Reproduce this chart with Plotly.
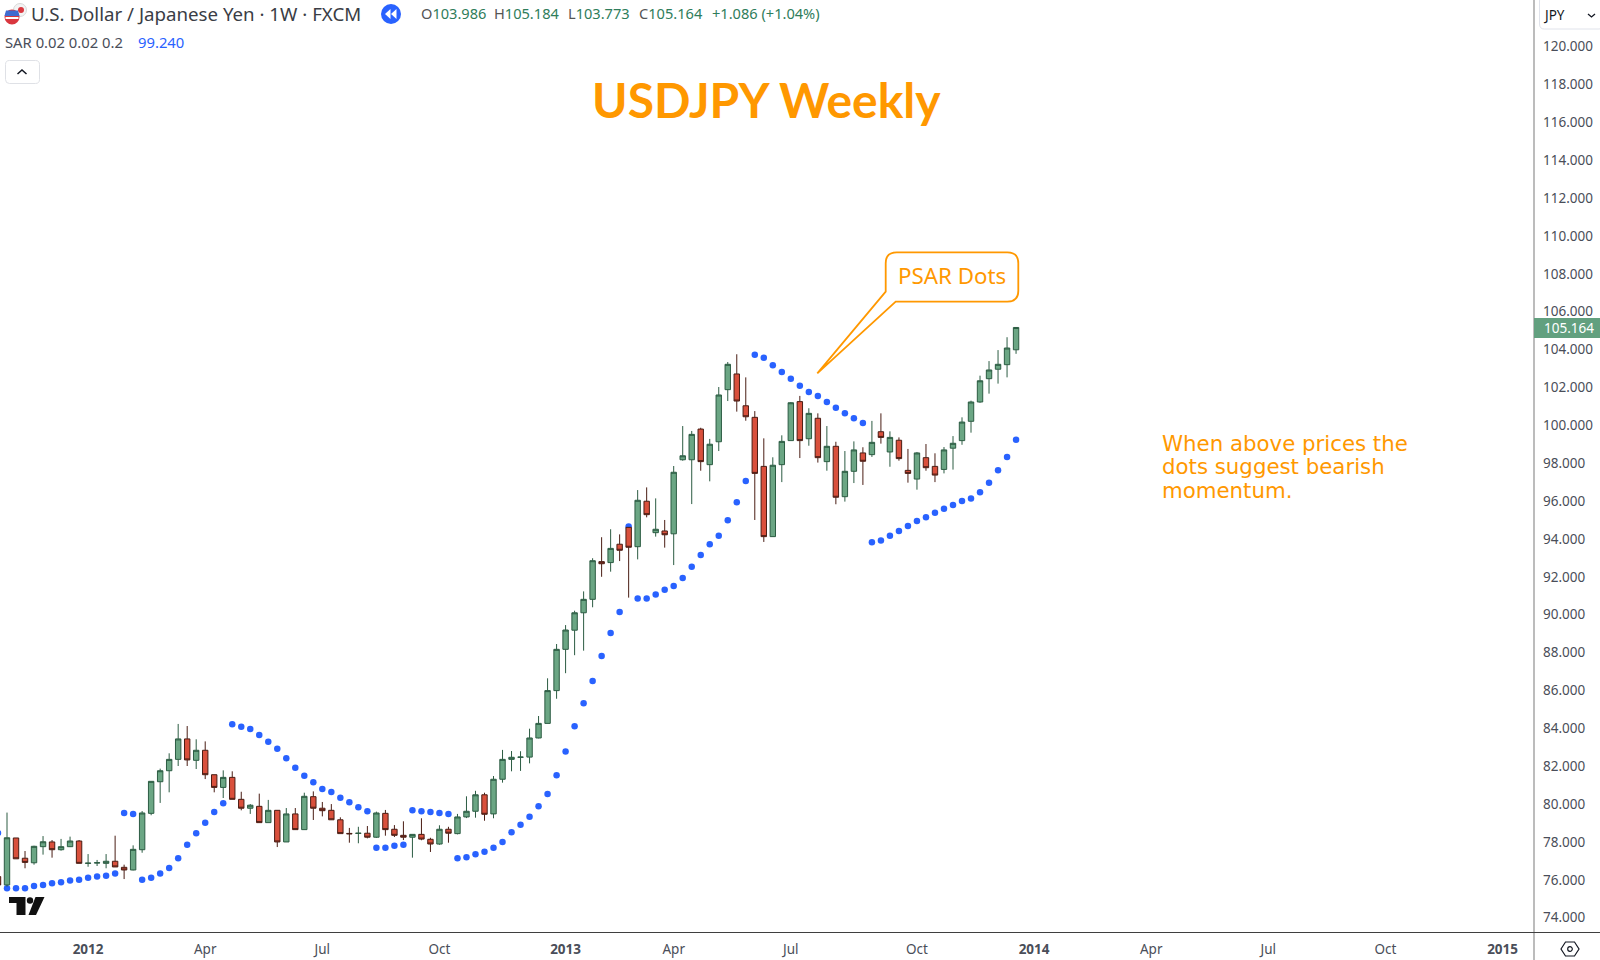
import pandas as pd
import plotly.graph_objects as go

# ---------- data (weekly USDJPY) ----------
dates = pd.date_range("2011-10-24", periods=114, freq="7D")

opens = [76.17,75.73,78.21,77.14,76.90,77.75,78.00,77.59,77.75,78.05,76.87,76.89,76.87,76.98,76.66,76.52,77.59,79.51,81.18,81.76,
82.36,83.44,82.31,82.84,81.55,80.88,81.41,80.25,79.78,79.88,79.02,79.67,78.00,79.48,78.65,80.39,79.78,79.67,79.17,78.45,
78.45,78.46,78.25,79.51,78.67,78.35,78.25,78.40,78.14,77.89,78.67,78.44,79.32,79.62,80.49,79.48,81.31,82.36,82.47,82.48,
83.49,84.26,85.99,88.17,89.18,90.10,90.81,92.80,92.75,93.72,94.61,93.59,95.99,94.33,94.42,94.27,98.18,98.18,99.80,97.92,
99.13,101.88,102.71,101.03,100.42,97.83,94.12,97.92,99.19,101.25,99.29,100.37,98.08,98.89,96.23,97.57,98.54,98.45,99.66,98.59,
99.21,97.62,97.16,98.29,97.83,97.67,98.79,99.19,100.21,101.23,102.46,102.96,103.20,103.986]
highs = [76.30,79.55,78.21,77.52,77.80,78.31,78.10,78.16,78.28,78.10,77.36,77.05,77.36,78.33,76.80,77.82,79.63,81.20,81.87,82.68,
84.23,84.12,83.42,83.31,81.55,81.78,81.73,80.65,80.00,80.55,80.22,79.67,79.79,79.79,80.60,80.67,80.11,80.00,79.30,78.74,
78.80,78.84,79.60,79.69,78.89,79.09,78.40,79.25,78.22,78.88,78.80,79.48,80.41,80.70,80.60,81.48,82.86,82.80,82.79,83.98,
84.65,86.64,88.45,89.45,90.21,91.23,92.98,94.09,94.51,94.24,94.61,96.58,96.72,96.14,95.00,97.85,99.96,99.70,99.87,99.28,
102.02,103.34,103.75,102.53,100.75,99.31,98.31,99.47,101.23,101.55,100.90,100.63,99.96,99.13,98.64,99.15,98.84,100.23,100.63,99.68,
99.36,98.75,98.59,99.01,98.52,98.85,99.43,100.42,101.30,102.62,103.39,103.97,104.65,105.184]
lows = [75.60,75.64,77.11,76.61,76.80,77.33,77.17,77.54,77.73,76.87,76.69,76.73,76.61,76.68,76.04,76.50,77.43,79.41,80.06,80.62,
82.01,82.01,81.85,81.32,80.62,80.32,80.25,79.67,79.48,79.02,79.02,77.73,78.00,78.65,78.65,79.16,79.35,79.16,78.44,77.96,
77.93,78.19,78.21,78.33,78.26,78.10,77.17,78.09,77.47,77.85,77.96,78.40,79.26,79.28,79.12,79.25,81.13,81.73,81.75,82.15,
83.47,84.26,85.56,86.91,87.86,88.10,90.39,92.00,92.27,92.83,90.90,92.92,95.14,94.12,93.54,92.62,98.13,95.84,97.60,97.04,
98.64,101.28,100.72,100.24,95.00,93.84,94.12,97.00,99.19,98.27,98.92,98.03,97.60,95.83,95.97,96.95,96.85,98.33,99.03,97.81,
98.13,96.97,96.60,97.60,97.00,97.46,97.66,98.97,99.61,101.19,101.67,102.20,102.53,103.773]
closes = [75.73,78.22,77.11,76.92,77.77,78.01,77.59,77.75,78.05,76.87,76.88,76.90,76.98,76.68,76.52,77.61,79.53,81.20,81.76,82.36,
83.44,82.33,82.84,81.55,80.88,81.41,80.25,79.78,79.94,79.02,79.67,78.00,79.48,78.65,80.41,79.78,79.65,79.17,78.44,78.43,
78.46,78.25,79.53,78.65,78.35,78.25,78.40,78.15,77.89,78.67,78.46,79.32,79.62,80.49,79.46,81.31,82.36,82.47,82.48,83.49,
84.26,85.99,88.17,89.19,90.10,90.81,92.85,92.69,93.50,93.40,93.56,96.04,95.28,94.51,94.22,97.52,98.39,99.52,98.08,99.00,
101.60,103.22,101.28,100.45,97.46,94.12,97.89,99.15,101.19,99.19,100.63,98.29,98.89,96.20,97.57,98.70,98.10,99.10,99.36,99.36,
98.24,97.46,98.54,97.76,97.37,98.70,99.05,100.17,101.23,102.35,102.92,103.22,104.08,105.164]
sar = [78.47,75.55,75.55,75.55,75.67,75.73,75.82,75.87,75.97,76.01,76.11,76.17,76.22,76.33,79.53,79.48,76.01,76.11,76.33,76.63,
77.14,77.85,78.46,79.02,79.58,80.04,84.21,84.08,83.96,83.65,83.29,82.92,82.42,81.92,81.50,81.15,80.80,80.64,80.34,80.09,
79.83,79.62,77.70,77.70,77.80,77.85,79.67,79.62,79.58,79.53,79.48,77.14,77.19,77.35,77.48,77.70,78.00,78.51,78.91,79.33,
79.88,80.53,81.52,82.77,84.11,85.32,86.50,87.82,89.03,90.14,94.65,90.86,90.86,91.06,91.32,91.51,91.94,92.53,93.15,93.72,
94.17,94.98,95.93,97.06,103.73,103.57,103.17,102.81,102.46,102.09,101.76,101.55,101.23,100.93,100.63,100.37,100.12,93.82,93.91,94.17,
94.42,94.68,94.94,95.14,95.38,95.59,95.79,96.00,96.14,96.46,96.97,97.62,98.33,99.24]

y_ticks = list(range(74, 122, 2))
x_tick_dates = ["2012-01-02","2012-04-02","2012-07-02","2012-10-01","2013-01-07","2013-04-01","2013-07-01",
                "2013-10-07","2014-01-06","2014-04-07","2014-07-07","2014-10-06","2015-01-05"]
x_tick_labels = ["<b>2012</b>","Apr","Jul","Oct","<b>2013</b>","Apr","Jul","Oct","<b>2014</b>","Apr","Jul","Oct","<b>2015</b>"]

# ---------- styles ----------
W, H = 1600, 960
PLOT_W, PLOT_H = 1534, 932
ORANGE = "#FF9800"
BLUE = "#2962FF"
FONT = "Noto Sans"
Y_RANGE = [73.245, 122.455]
X_RANGE = ["2011-10-25 13:30", "2015-01-29 10:00"]

def fx(x): return x / PLOT_W
def fy(y): return 1 - y / PLOT_H

def path(points, close=True):
    s = "M" + " L".join(f"{fx(x):.5f},{fy(y):.5f}" for x, y in points)
    return s + (" Z" if close else "")

def rrect(x0, y0, x1, y1, r, tail=None):
    # rounded rectangle in pixels, optional tail on the lower-left
    k = r
    s = f"M{fx(x0+k):.5f},{fy(y0):.5f} L{fx(x1-k):.5f},{fy(y0):.5f} "
    s += f"Q{fx(x1):.5f},{fy(y0):.5f} {fx(x1):.5f},{fy(y0+k):.5f} "
    s += f"L{fx(x1):.5f},{fy(y1-k):.5f} Q{fx(x1):.5f},{fy(y1):.5f} {fx(x1-k):.5f},{fy(y1):.5f} "
    if tail:
        for (tx, ty) in tail:
            s += f"L{fx(tx):.5f},{fy(ty):.5f} "
    else:
        s += f"L{fx(x0+k):.5f},{fy(y1):.5f} Q{fx(x0):.5f},{fy(y1):.5f} {fx(x0):.5f},{fy(y1-k):.5f} "
    s += f"L{fx(x0):.5f},{fy(y0+k):.5f} Q{fx(x0):.5f},{fy(y0):.5f} {fx(x0+k):.5f},{fy(y0):.5f} Z"
    return s

shapes = []
def add_path(d, fill="rgba(0,0,0,0)", line=None, width=1):
    shapes.append(dict(type="path", xref="paper", yref="paper", path=d, fillcolor=fill,
                       line=dict(color=line or "rgba(0,0,0,0)", width=width if line else 0)))
def add_circle(cx, cy, r, fill, line=None, width=1):
    shapes.append(dict(type="circle", xref="paper", yref="paper", x0=fx(cx-r), x1=fx(cx+r),
                       y0=fy(cy+r), y1=fy(cy-r), fillcolor=fill,
                       line=dict(color=line or "rgba(0,0,0,0)", width=width if line else 0)))

annotations = []
def label(x, y, text, size, color="#131722", anchor="left", family=FONT, **kw):
    annotations.append(dict(xref="paper", yref="paper", x=fx(x), y=fy(y), text=text, showarrow=False,
                            xanchor=anchor, yanchor="middle", align="left", borderpad=0, borderwidth=0,
                            font=dict(size=size, color=color, family=family), **kw))

# frame lines
add_path(path([(1534, 0), (1534, 960)], False), line="#bcbcbc", width=2)
add_path(path([(0, 932.5), (1600, 932.5)], False), line="#3f3f3f", width=1)

# callout
add_path(rrect(885.7, 252.3, 1018.3, 301.7, 11,
               tail=[(895.7, 301.7), (817.3, 373.3), (885.7, 291.7)]),
         fill="white", line=ORANGE, width=1.8)
label(952, 275, "PSAR Dots", 22.3, ORANGE, anchor="center")

# title and note
label(766, 100, "<b>USDJPY Weekly</b>", 48, ORANGE, anchor="center", family="Lato")
for yy, t in zip([443.5, 467, 490.5], ["When above prices the", "dots suggest bearish", "momentum."]):
    label(1162, yy, t, 21.3, ORANGE, family="DejaVu Sans")

# flag icon
add_circle(20, 10, 6.5, "#f3f3f3", line="#d8d8d8")
add_circle(21, 10, 3, "#d9363e")
add_circle(12, 17, 7.5, "#d9363e")
add_path(path([(5.5, 17), (18.5, 17), (18.5, 19), (5.5, 19)]), fill="#ffffff")
add_path(path([(6, 10.5), (18, 10.5), (19.5, 16), (4.5, 16)]), fill="#3f6bd0")

# header
label(31, 13.5, "U.S. Dollar / Japanese Yen · 1W · FXCM", 18.7, "#3a3d45")
add_circle(391, 14, 10, BLUE)
add_path(path([(390.5, 9), (390.5, 19), (385, 14)]), fill="white")
add_path(path([(396.5, 9), (396.5, 19), (391, 14)]), fill="white")
G = "#2f7d5b"
for xx, (k, v) in zip([421, 494, 568, 639], [("O", "103.986"), ("H", "105.184"), ("L", "103.773"), ("C", "105.164")]):
    label(xx, 13, f'<span style="color:#555">{k}</span>{v}', 14.6, G)
label(712, 13, "+1.086 (+1.04%)", 14.6, G)
label(5, 42, "SAR 0.02 0.02 0.2", 14.8, "#4a4e59")
label(138, 42, "99.240", 14.8, BLUE)

# collapse button
add_path(rrect(5.5, 60.5, 39.5, 83.5, 4), fill="white", line="#dfe1e6")
add_path(path([(17.5, 74), (22, 70), (26.5, 74)], False), line="#131722", width=1.5)

# currency box
add_path(rrect(1539.5, -4, 1604, 29, 5), fill="white", line="#e0e3eb")
label(1543, 15, "JPY", 13.5, "#131722")
add_path(path([(1588, 14), (1591.5, 17), (1595, 14)], False), line="#131722", width=1.3)

# last-price tag
add_path(path([(1534, 318), (1600, 318), (1600, 338), (1534, 338)]), fill="#62a07f")
label(1569, 328, "105.164", 13.5, "white", anchor="center")

# settings icon
add_path(path([(1561, 949), (1565.5, 942), (1574.5, 942), (1579, 949), (1574.5, 956), (1565.5, 956)]),
         fill="white", line="#131722", width=1.2)
add_circle(1570, 949, 2.3, "white", line="#131722", width=1.2)

# logo
add_path(path([(9, 897), (25.5, 897), (25.5, 915), (16.5, 915), (16.5, 903), (9, 903)]), fill="#111111")
add_circle(30, 900.5, 3.2, "#111111")
add_path(path([(35.5, 897), (44.5, 897), (36, 915), (28.5, 915)]), fill="#111111")

# ---------- figure ----------
fig = go.Figure()
fig.add_trace(go.Scatter(
    x=dates, y=sar, mode="markers", yaxis="y", cliponaxis=True,
    marker=dict(color=BLUE, size=6.5, line=dict(width=0)), hoverinfo="skip", name="SAR"))
fig.add_trace(go.Candlestick(
    x=dates, open=opens, high=highs, low=lows, close=closes, yaxis="y2", whiskerwidth=0,
    increasing=dict(fillcolor="#6ba684", line=dict(color="#2c5c43", width=1)),
    decreasing=dict(fillcolor="#d9503c", line=dict(color="#4a1d14", width=1)),
    hoverinfo="skip", name="USDJPY"))

fig.update_layout(
    width=W, height=H, autosize=False, boxgap=0.2, boxgroupgap=0.25,
    margin=dict(l=0, r=W - PLOT_W, t=0, b=H - PLOT_H, pad=0),
    paper_bgcolor="white", plot_bgcolor="white", showlegend=False,
    font=dict(family=FONT, color="#3a3d45"),
    xaxis=dict(type="date", range=X_RANGE, tickvals=x_tick_dates, ticktext=x_tick_labels, showgrid=False,
               zeroline=False, showline=False, ticks="", rangeslider=dict(visible=False), fixedrange=True,
               tickfont=dict(size=13.5, color="#4a4e59"), ticklabelstandoff=7),
    yaxis=dict(side="right", range=Y_RANGE, tickvals=y_ticks, ticktext=[f"{v}.000" for v in y_ticks],
               showgrid=False, zeroline=False, showline=False, ticks="", fixedrange=True,
               tickfont=dict(size=13.5, color="#4a4e59"), ticklabelstandoff=8),
    yaxis2=dict(overlaying="y", side="right", range=Y_RANGE, visible=False, fixedrange=True),
    shapes=shapes, annotations=annotations,
)
fig.write_html("out.html", config=dict(displayModeBar=False),
               post_script="document.body.style.margin='0';document.body.style.overflow='hidden';")
